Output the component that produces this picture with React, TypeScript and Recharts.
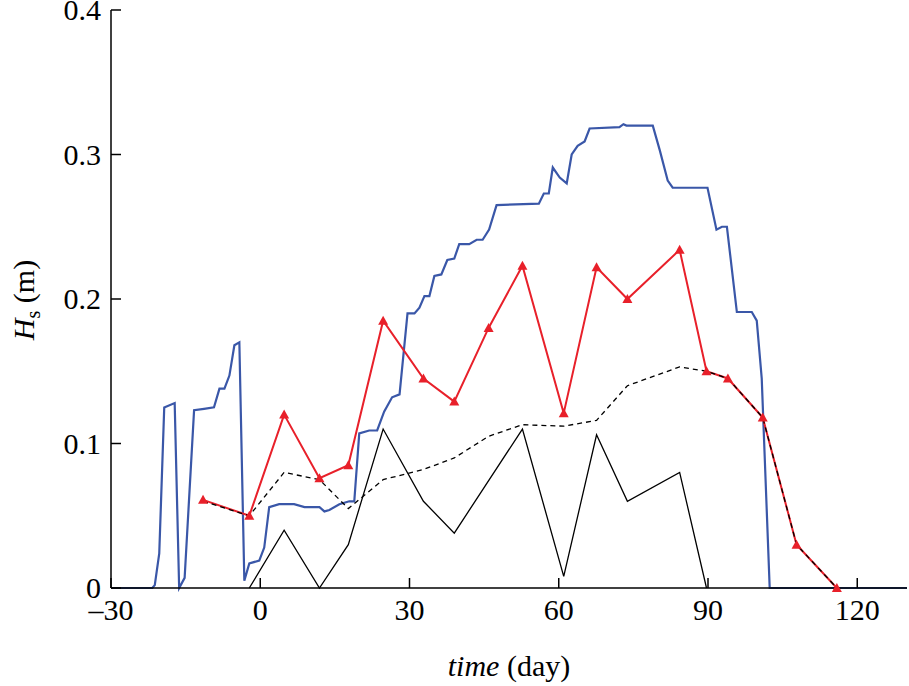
import { LineChart, Line, XAxis, YAxis } from "recharts";

const X_TICKS = [-30, 0, 30, 60, 90, 120];
const Y_TICKS = [0, 0.1, 0.2, 0.3, 0.4];

// measured (red triangles)
const measuredDay = [-11.5, -2.2, 4.8, 11.9, 17.7, 24.7, 32.8, 39, 45.9, 52.7, 61, 67.6, 73.8, 84.3, 89.7, 94, 101, 107.8, 115.9];
const measuredHs = [0.061, 0.05, 0.12, 0.076, 0.085, 0.185, 0.145, 0.129, 0.18, 0.223, 0.121, 0.222, 0.2, 0.234, 0.15, 0.145, 0.118, 0.03, 0];

// dashed black
const dashedHs = [0.06, 0.05, 0.08, 0.075, 0.055, 0.075, 0.082, 0.09, 0.105, 0.113, 0.112, 0.116, 0.14, 0.153, 0.15, 0.145, 0.118, 0.03, 0];

// solid black
const solidDay = [-2.2, 4.8, 11.9, 17.7, 24.7, 32.8, 39, 52.7, 61, 67.6, 73.8, 84.3, 89.7];
const solidHs = [0, 0.04, 0, 0.03, 0.11, 0.06, 0.038, 0.11, 0.008, 0.106, 0.06, 0.08, 0];

// blue model curve
const blueDay = [-30, -21.7, -21.2, -20.3, -19.3, -17.2, -16.3, -15.2, -13.3, -11.3, -9.3, -8.2, -7.2, -6.2, -5.2, -4.2, -3.2, -2.2, -0.2, 0.8, 1.8, 3.8, 6.8, 8.9, 11.9, 12.9, 13.9, 15.9, 17.9, 18.9, 19.9, 21.9, 23.5, 24.9, 26.5, 28, 29.6, 31, 32, 33, 34, 35, 36.4, 37.6, 39, 40, 42, 43.5, 44.7, 46, 47.5, 56, 57, 58, 58.8, 60.2, 61.6, 62.6, 63.8, 65.2, 66.2, 72.2, 73, 73.6, 78.9, 80.3, 81.9, 82.9, 89.9, 91.7, 92.8, 93.8, 95.8, 98.8, 99.8, 100.8, 102.4, 130];
const blueHs = [0, 0, 0.002, 0.024, 0.125, 0.128, 0, 0.007, 0.123, 0.124, 0.125, 0.138, 0.138, 0.147, 0.168, 0.17, 0.005, 0.017, 0.019, 0.028, 0.056, 0.058, 0.058, 0.056, 0.056, 0.053, 0.054, 0.058, 0.06, 0.06, 0.107, 0.109, 0.109, 0.122, 0.132, 0.134, 0.19, 0.19, 0.194, 0.202, 0.202, 0.216, 0.217, 0.227, 0.228, 0.238, 0.238, 0.241, 0.241, 0.248, 0.265, 0.266, 0.273, 0.273, 0.291, 0.284, 0.28, 0.3, 0.306, 0.309, 0.318, 0.319, 0.321, 0.32, 0.32, 0.303, 0.282, 0.277, 0.277, 0.248, 0.25, 0.25, 0.191, 0.191, 0.185, 0.145, 0, 0];

const zip = (xs: number[], ys: number[]) => xs.map((x, i) => ({ x, y: ys[i] }));
const measured = zip(measuredDay, measuredHs);
const dashed = zip(measuredDay, dashedHs);
const solid = zip(solidDay, solidHs);
const blue = zip(blueDay, blueHs);

const FONT = "'Liberation Serif', 'DejaVu Serif', serif";

const XTick = (p: any) => {
  const v = p.payload.value;
  return (
    <g>
      <line x1={p.x} x2={p.x} y1={p.y} y2={p.y - 10} stroke="#000" strokeWidth={1.5} />
      <text x={p.x} y={p.y + 32} textAnchor="middle" fontFamily={FONT} fontSize={30} fill="#000">
        {v < 0 ? `\u2013${-v}` : v}
      </text>
    </g>
  );
};

const YTick = (p: any) => {
  const v = p.payload.value;
  return (
    <g>
      <line x1={p.x} x2={p.x + 10} y1={p.y} y2={p.y} stroke="#000" strokeWidth={1.5} />
      <text x={p.x - 10} y={p.y + 10} textAnchor="end" fontFamily={FONT} fontSize={30} fill="#000">
        {v === 0 ? "0" : v.toFixed(1)}
      </text>
    </g>
  );
};

const Tri = (p: any) => {
  if (p.cx == null) return <g />;
  const s = 5;
  return (
    <polygon
      points={`${p.cx},${p.cy - s} ${p.cx - s},${p.cy + s * 0.8} ${p.cx + s},${p.cy + s * 0.8}`}
      fill="#e8202a"
    />
  );
};

export default function App() {
  return (
    <div style={{ position: "absolute", left: 0, top: 0, width: 909, height: 686, background: "#fff" }}>
      <LineChart width={909} height={686} margin={{ top: 10, right: 2, left: 0, bottom: 0 }}>
        <XAxis
          dataKey="x"
          type="number"
          domain={[-30, 130]}
          ticks={X_TICKS}
          allowDuplicatedCategory={false}
          height={98}
          tickSize={0}
          tickMargin={0}
          tickLine={false}
          tick={<XTick />}
          axisLine={{ stroke: "#000", strokeWidth: 1.5 }}
        />
        <XAxis xAxisId="top" orientation="top" type="number" domain={[-30, 130]} height={0} tick={false} tickLine={false} axisLine={{ stroke: "#000", strokeWidth: 1.5 }} />
        <YAxis
          type="number"
          domain={[0, 0.4]}
          ticks={Y_TICKS}
          width={111}
          tickSize={0}
          tickMargin={0}
          tickLine={false}
          tick={<YTick />}
          axisLine={{ stroke: "#000", strokeWidth: 1.5 }}
        />
        <YAxis yAxisId="right" orientation="right" domain={[0, 0.4]} width={0} tick={false} tickLine={false} axisLine={{ stroke: "#000", strokeWidth: 1.5 }} />
        <Line data={blue} dataKey="y" type="linear" stroke="#3a57a8" strokeWidth={2.2} dot={false} isAnimationActive={false} />
        <Line data={solid} dataKey="y" type="linear" stroke="#000" strokeWidth={1.3} dot={false} isAnimationActive={false} />
        <Line data={measured} dataKey="y" type="linear" stroke="#e8202a" strokeWidth={2} dot={<Tri />} isAnimationActive={false} />
        <Line data={dashed} dataKey="y" type="linear" stroke="#000" strokeWidth={1.3} strokeDasharray="5 4" dot={false} isAnimationActive={false} />
        <text x={509} y={676} textAnchor="middle" fontFamily={FONT} fontSize={30} fill="#000">
          <tspan fontStyle="italic">time</tspan> (day)
        </text>
        <text x={34} y={300} textAnchor="middle" fontFamily={FONT} fontSize={30} fill="#000" transform="rotate(-90 34 300)">
          <tspan fontStyle="italic">H</tspan>
          <tspan fontSize={20} dy={6}>s</tspan>
          <tspan dy={-6}> (m)</tspan>
        </text>
      </LineChart>
    </div>
  );
}
